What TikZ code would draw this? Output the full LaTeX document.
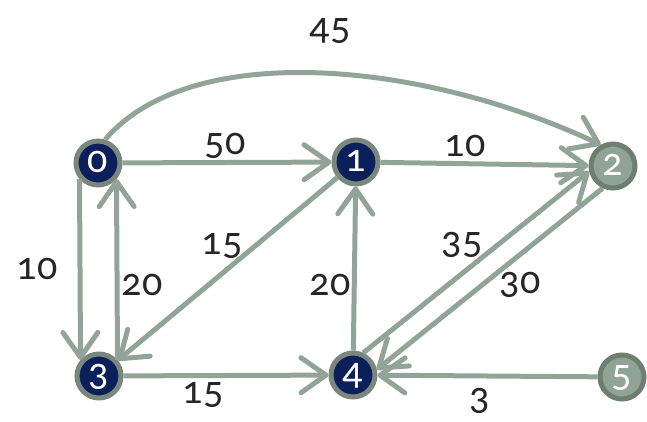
\documentclass[tikz,border=0pt]{standalone}
\usepackage{fontspec}
\newfontfamily\wfont{Carlito}[Numbers=OldStyle]
% digits set in the old-style figures of the weight font
\newcommand\wt[1]{{\wfont\fontsize{40}{40}\selectfont #1}}
\usetikzlibrary{arrows.meta}
\definecolor{edgecol}{HTML}{92A398}
\definecolor{navy}{HTML}{0B1F5B}
\definecolor{navyring}{HTML}{7A877D}
\definecolor{palefill}{HTML}{8FA396}
\definecolor{palering}{HTML}{6E7F72}
\definecolor{labelcol}{HTML}{262626}
\begin{document}
\begin{tikzpicture}[x=1pt,y=-1pt,
  vert/.style={circle, minimum size=44pt, inner sep=0pt, line width=5pt,
    text=white, text height=18.5pt, text depth=0pt},
  dark/.style={vert, draw=navyring, fill=navy},
  pale/.style={vert, draw=palering, fill=palefill},
  edge/.style={draw=edgecol, line width=5pt,
    -{Straight Barb[length=25pt,width=35pt,round]}},
  % weights sit on their baseline, half an x-height below the given point
  lbl/.style={text=labelcol, inner sep=0pt, anchor=base, yshift=-9.3pt}]
\useasboundingbox (0,0) rectangle (647,422);

% vertices
\node[dark] (n0) at (98,163) {\wt{0}};
\node[dark] (n1) at (356,162) {\wt{1}};
\node[pale] (n2) at (613,166) {\wt{2}};
\node[dark] (n3) at (99,376) {\wt{3}};
\node[dark] (n4) at (353,375) {\wt{4}};
\node[pale] (n5) at (622,377) {\wt{5}};

% weighted edges
\draw[edge] (n0.73) .. controls (190,40) and (420,60) .. (n2.120);
\draw[edge] (n0) -- (n1);
\draw[edge] (n1) -- (n2);
\draw[edge] (n1) -- (n3);
\draw[edge] (n0.221) -- (n3.139);
\draw[edge] (n3.41) -- (n0.319);
\draw[edge] (n3) -- (n4);
\draw[edge] (n4) -- (n1);
\draw[edge] (n4.65) -- (n2.193);
\draw[edge] (n2.245) -- (n4.13);
\draw[edge] (n5) -- (n4);

% weights
\node[lbl] (w02) at (330,30) {\wt{45}};
\node[lbl] (w01) at (225,145) {\wt{50}};
\node[lbl] (w12) at (465,147) {\wt{10}};
\node[lbl] (w13) at (222,245) {\wt{15}};
\node[lbl] (w03) at (37,270) {\wt{10}};
\node[lbl] (w30) at (142,286) {\wt{20}};
\node[lbl] (w41) at (330,286) {\wt{20}};
\node[lbl] (w42) at (462,244) {\wt{35}};
\node[lbl] (w24) at (520,284) {\wt{30}};
\node[lbl] (w34) at (203,394) {\wt{15}};
\node[lbl] (w54) at (480,400) {\wt{3}};
\end{tikzpicture}
\end{document}
